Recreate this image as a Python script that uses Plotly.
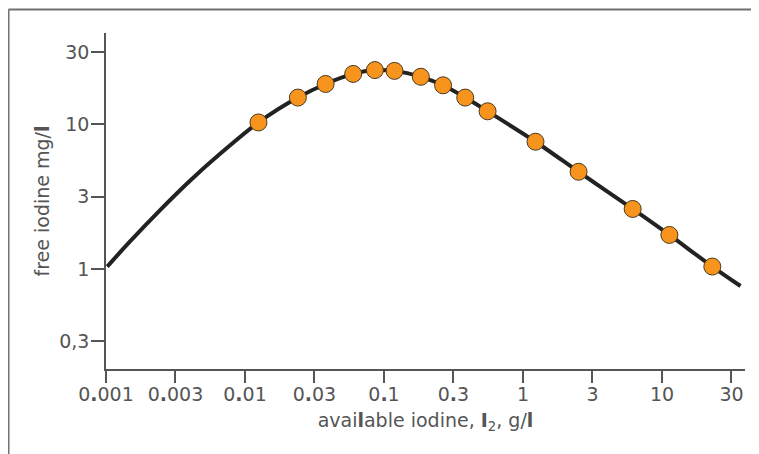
import plotly.graph_objects as go

# ---- data ----
available_iodine = [0.0125, 0.024, 0.038, 0.060, 0.086, 0.119, 0.184, 0.266, 0.384, 0.556,
                    1.23, 2.51, 6.15, 11.3, 23.0]
free_iodine = [10.3, 15.3, 19.0, 22.3, 23.7, 23.4, 21.3, 18.6, 15.3, 12.3,
               7.58, 4.70, 2.60, 1.72, 1.04]

curve_x = [0.00102, 0.00149, 0.00245, 0.00402, 0.00662,
           0.0125, 0.024, 0.038, 0.060, 0.086, 0.119, 0.184, 0.266, 0.384, 0.556,
           1.23, 2.51, 6.15, 11.3, 23.0, 36.7]
curve_y = [1.04, 1.55, 2.55, 4.07, 6.25,
           10.3, 15.3, 19.0, 22.3, 23.7, 23.4, 21.3, 18.6, 15.3, 12.3,
           7.58, 4.70, 2.60, 1.72, 1.04, 0.763]

x_tickvals = [0.001, 0.00316, 0.01, 0.0316, 0.1, 0.316, 1, 3.16, 10, 31.6]
x_ticktext = ["0<b>.</b>001", "0<b>.</b>003", "0<b>.</b>01", "0<b>.</b>03", "0<b>.</b>1",
              "0<b>.</b>3", "1", "3", "10", "30"]
y_tickvals = [0.316, 1, 3.16, 10, 31.6]
y_ticktext = ["0,3", "1", "3", "10", "30"]

x_title = "avai<b>l</b>able iodine, <b>I</b><sub>2</sub>, g/<b>l</b>"
y_title = "free iodine mg/<b>l</b>"

FONT = "DejaVu Sans"
TXT = "#555555"
AX = "#555555"

fig = go.Figure()
fig.add_trace(go.Scatter(
    x=curve_x, y=curve_y, mode="lines",
    line=dict(color="#222222", width=4, shape="spline", smoothing=0.8),
    hoverinfo="skip", showlegend=False))
fig.add_trace(go.Scatter(
    x=available_iodine, y=free_iodine, mode="markers",
    marker=dict(size=17, color="#F7941D", line=dict(color="#4a3a20", width=1)),
    showlegend=False))

# page has an 8px body margin, so the figure is sized to fit inside it
W, H = 751, 446
L, R, T, B = 98, 14, 25, 85
pw, ph = W - L - R, H - T - B

fig.update_layout(
    width=W, height=H,
    margin=dict(l=L, r=R, t=T, b=B, autoexpand=False),
    paper_bgcolor="white", plot_bgcolor="white",
    font=dict(family=FONT, size=19, color=TXT),
    xaxis=dict(type="log", range=[-3, 1.597], tickvals=x_tickvals, ticktext=x_ticktext,
               showline=True, linecolor=AX, linewidth=1.5, ticks="outside", ticklen=12,
               tickwidth=1.5, tickcolor=AX, showgrid=False, zeroline=False,
               ticklabelstandoff=-5,
               tickfont=dict(family=FONT, size=19, color=TXT),
               title=dict(text=x_title, font=dict(family=FONT, size=19, color=TXT), standoff=10),
               automargin=False),
    yaxis=dict(type="log", range=[-0.691, 1.631], tickvals=y_tickvals, ticktext=y_ticktext,
               showline=True, linecolor=AX, linewidth=1.5, ticks="outside", ticklen=13,
               tickwidth=1.5, tickcolor=AX, showgrid=False, zeroline=False,
               ticklabelstandoff=-2,
               tickfont=dict(family=FONT, size=19, color=TXT),
               title=dict(text=y_title, font=dict(family=FONT, size=19, color=TXT), standoff=5),
               automargin=False),
    shapes=[
        dict(type="line", xref="paper", yref="paper",
             x0=(0.5 - L) / pw, x1=(W + 5 - L) / pw,
             y0=(H - B - 1.5) / ph, y1=(H - B - 1.5) / ph,
             line=dict(color="#707070", width=2)),
        dict(type="line", xref="paper", yref="paper",
             x0=(0.5 - L) / pw, x1=(0.5 - L) / pw,
             y0=(H - B - 1.5) / ph, y1=(-B - 5) / ph,
             line=dict(color="#707070", width=2)),
    ],
)

fig.write_html("out.html")
